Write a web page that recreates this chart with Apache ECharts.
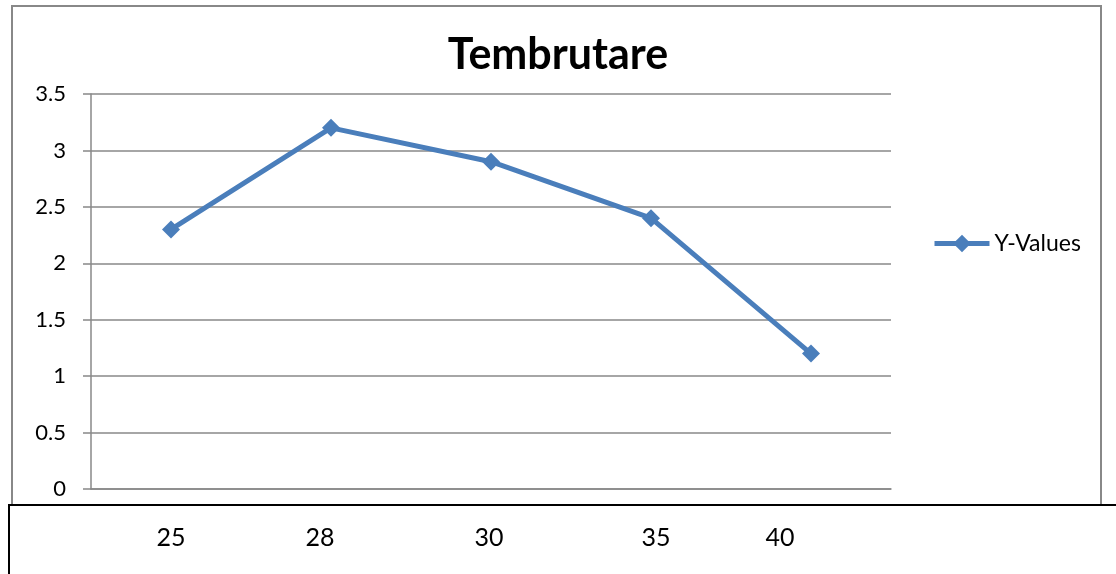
<!DOCTYPE html>
<html>
<head>
<meta charset="utf-8">
<script src="https://cdn.jsdelivr.net/npm/echarts@6/dist/echarts.min.js"></script>
<style>html,body{margin:0;padding:0;background:#fff}#c{width:1116px;height:574px}</style>
</head>
<body>
<div id="c"></div>
<script>
const categories = ['25', '28', '30', '35', '40'];
const yValues = [2.3, 3.2, 2.9, 2.4, 1.2];
const seriesName = 'Y-Values';
const titleText = 'Tembrutare';

// layout: horizontal nudge (px) of each x label relative to its category centre
const labelShift = [0, -11, -2, 5, -31];

const rich = {};
labelShift.forEach(function (s, i) {
  rich['l' + i] = {
    fontFamily: 'Lato', fontSize: 25, color: '#000',
    padding: s >= 0 ? [0, 0, 0, 2 * s] : [0, -2 * s, 0, 0]
  };
});

const chart = echarts.init(document.getElementById('c'), null, {renderer: 'canvas'});
chart.setOption({
  animation: false,
  backgroundColor: '#fff',
  title: {
    text: titleText,
    left: 'center',
    top: 29,
    textStyle: {fontFamily: 'Lato', fontWeight: 'bold', fontSize: 43, color: '#000'}
  },
  legend: {
    data: [seriesName],
    left: 932,
    top: 232,
    padding: 0,
    itemWidth: 55,
    itemHeight: 22,
    itemGap: 4,
    lineStyle: {width: 5},
    textStyle: {fontFamily: 'Lato', fontSize: 23, color: '#000'}
  },
  grid: {left: 91, right: 225, top: 94, bottom: 85, containLabel: false},
  xAxis: {
    type: 'category',
    data: categories,
    boundaryGap: true,
    axisLine: {show: true, lineStyle: {color: '#888', width: 1.5}},
    axisTick: {show: false},
    splitLine: {show: false},
    axisLabel: {
      margin: 36,
      interval: 0,
      formatter: function (v, i) { return '{l' + i + '|' + v + '}'; },
      rich: rich
    }
  },
  yAxis: {
    type: 'value',
    min: 0, max: 3.5, interval: 0.5,
    axisLine: {show: true, lineStyle: {color: '#888', width: 1.5}},
    axisTick: {show: true, length: 8, lineStyle: {color: '#888', width: 1.5}},
    splitLine: {show: true, lineStyle: {color: '#888', width: 1.5}},
    axisLabel: {margin: 25, fontFamily: 'Lato', fontSize: 22, color: '#000'}
  },
  series: [{
    name: seriesName,
    type: 'line',
    data: yValues,
    symbol: 'diamond',
    symbolSize: 18,
    showSymbol: true,
    lineStyle: {color: '#4a7ebb', width: 5},
    itemStyle: {color: '#4a7ebb'},
    z: 3
  }],
  graphic: [
    {type: 'rect', shape: {x: 12, y: 6, width: 1089, height: 499},
     style: {fill: 'none', stroke: '#888', lineWidth: 2}, silent: true, z: -1},
    {type: 'rect', shape: {x: 9, y: 505, width: 1120, height: 100},
     style: {fill: 'none', stroke: '#000', lineWidth: 2}, silent: true, z: 10}
  ]
});
</script>
</body>
</html>
